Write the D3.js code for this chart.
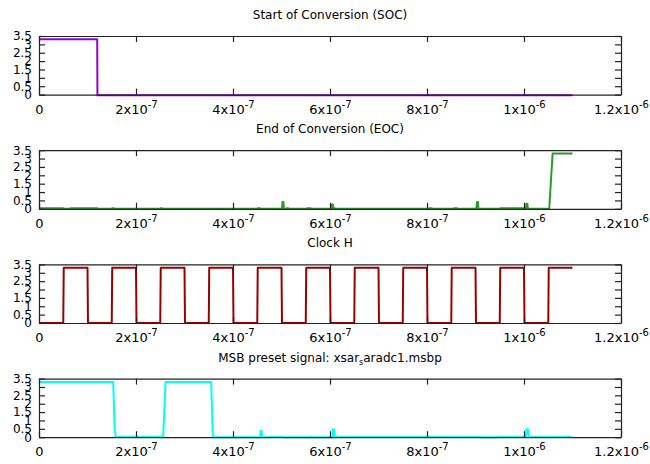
<!DOCTYPE html>
<html>
<head>
<meta charset="utf-8">
<script src="https://cdn.jsdelivr.net/npm/d3@7"></script>
<style>
  body { margin: 0; background: #fff; }
  svg { display: block; font-family: "DejaVu Sans", sans-serif; }
</style>
</head>
<body>
<div id="chart"></div>
<script>
// time in ns, voltage in V
const socData = [[0, 3.3], [120, 3.3], [120.5, -0.04], [1100, -0.04]];

const eocData = [
  [0, 0.03], [50, 0.03], [52, 0], [64, 0], [65, 0.03], [120, 0.03], [121, 0],
  [150, 0], [151, 0.03], [154, 0.03], [155, 0], [250, 0], [251, 0.03], [254, 0.03], [255, 0],
  [450, 0], [451, 0.03], [456, 0.03], [457, 0], [501, 0], [502, 0.4], [504, 0.4], [505, 0],
  [510, 0], [511, 0.03], [514, 0.03], [515, 0], [552, 0], [553, 0.03], [560, 0.03], [561, 0],
  [603, 0], [604, 0.25], [606, 0.25], [607, 0.03], [610, 0.03], [611, 0],
  [804, 0], [805, 0.03], [810, 0.03], [811, 0], [855, 0], [856, 0.03], [862, 0.03], [863, 0],
  [902, 0], [903, 0.4], [905, 0.4], [906, 0], [950, 0], [951, 0.03], [1000, 0.03],
  [1004, 0.03], [1005, 0.3], [1007, 0.3], [1008, 0], [1052, 0], [1059, 3.3], [1100, 3.3]
];

const clkData = [
  [0, 0], [50, 0], [51, 3.3], [100, 3.3], [101, 0], [150, 0], [151, 3.3], [200, 3.3],
  [201, 0], [250, 0], [251, 3.3], [300, 3.3], [301, 0], [350, 0], [351, 3.3], [400, 3.3],
  [401, 0], [450, 0], [451, 3.3], [500, 3.3], [501, 0], [550, 0], [551, 3.3], [600, 3.3],
  [601, 0], [650, 0], [651, 3.3], [700, 3.3], [701, 0], [750, 0], [751, 3.3], [800, 3.3],
  [801, 0], [850, 0], [851, 3.3], [900, 3.3], [901, 0], [950, 0], [951, 3.3], [1000, 3.3],
  [1001, 0], [1050, 0], [1051, 3.3], [1100, 3.3]
];

const msbData = [
  [0, 3.3], [153, 3.3], [156, 0.4], [157, 0.3], [158, 0.03], [160, 0.03], [250, 0.03],
  [252, 0], [256, 0], [261, 3.3], [355, 3.3], [358, 0.4], [359, 0], [366, 0],
  [456, 0], [457, 0.38], [459, 0.38], [460, 0], [476, 0], [477, 0.03], [503, 0.03], [504, 0],
  [558, 0], [559, 0.03], [562, 0.03], [563, 0], [605, 0], [606, 0.48], [608, 0.48],
  [610, 0.025], [910, 0.025], [911, 0], [945, 0], [946, 0.025], [1004, 0.025], [1005, 0.48],
  [1008, 0.48], [1010, 0.025], [1100, 0.025]
];

const titles = [
  "Start of Conversion (SOC)",
  "End of Conversion (EOC)",
  "Clock H",
  "MSB preset signal: xsar_saradc1.msbp"
];
const colors = ["#9400d3", "#2a9a2a", "#990000", "#00ffff"];
const yTicks = [0, 0.5, 1, 1.5, 2, 2.5, 3, 3.5];
const xTicks = [0, 200, 400, 600, 800, 1000, 1200];
const xTickLabels = [["0", ""], ["2x10", "-7"], ["4x10", "-7"], ["6x10", "-7"],
                     ["8x10", "-7"], ["1x10", "-6"], ["1.2x10", "-6"]];

const width = 650, height = 464;
const left = 39, plotW = 582, plotH = 58.6, firstTop = 36, step = 114.2;

const svg = d3.select("#chart").append("svg")
  .attr("width", width)
  .attr("height", height);

const x = d3.scaleLinear().domain([0, 1200]).range([0, plotW]);
const y = d3.scaleLinear().domain([0, 3.5]).range([plotH, 0]);

const line = d3.line()
  .x(d => x(d[0]))
  .y(d => y(d[1]));

const panels = [socData, eocData, clkData, msbData];

panels.forEach((data, i) => {
  const top = firstTop + i * step;
  const g = svg.append("g").attr("transform", `translate(${left},${top})`);

  // title (underscore becomes subscript like gnuplot does)
  const t = svg.append("text")
    .attr("x", left + plotW / 2)
    .attr("y", top - 17)
    .attr("text-anchor", "middle")
    .style("font-size", "12px")
    .attr("fill", "#000");
  const parts = titles[i].split("_");
  t.append("tspan").text(parts[0]);
  if (parts.length > 1) {
    t.append("tspan").attr("dy", 3).style("font-size", "8px").text(parts[1][0]);
    t.append("tspan").attr("dy", -3).text(parts[1].slice(1));
  }

  // signal
  g.append("path")
    .datum(data)
    .attr("d", line)
    .attr("fill", "none")
    .attr("stroke", colors[i])
    .attr("stroke-width", 2)
    .attr("stroke-linejoin", "round");

  // axes / border
  const yl = g.append("g")
    .call(d3.axisLeft(y).tickValues(yTicks).tickSizeInner(-6).tickSizeOuter(0)
      .tickPadding(7).tickFormat(d => String(d)));
  yl.attr("font-size", 12).attr("font-family", null);
  yl.selectAll("text").attr("fill", "#000");

  g.append("g")
    .attr("transform", `translate(${plotW},0)`)
    .call(d3.axisRight(y).tickValues(yTicks).tickSizeInner(-6).tickSizeOuter(0)
      .tickFormat(""));

  g.append("g")
    .call(d3.axisTop(x).tickValues(xTicks).tickSizeInner(-6).tickSizeOuter(0)
      .tickFormat(""));

  const xb = g.append("g")
    .attr("transform", `translate(0,${plotH})`)
    .call(d3.axisBottom(x).tickValues(xTicks).tickSizeInner(-6).tickSizeOuter(0)
      .tickFormat(""));
  xb.attr("font-size", 13).attr("font-family", null);

  xb.selectAll(".tick text")
    .attr("y", 19)
    .attr("dy", 0)
    .attr("fill", "#000")
    .each(function(d, k) {
      const lab = xTickLabels[k];
      const txt = d3.select(this);
      txt.append("tspan").text(lab[0]);
      if (lab[1]) {
        txt.append("tspan").attr("dy", -6).attr("font-size", 10).text(lab[1]);
      }
    });

  g.selectAll(".domain, .tick line")
    .attr("stroke", "#222")
    .attr("stroke-width", 1.2);
});
</script>
</body>
</html>
